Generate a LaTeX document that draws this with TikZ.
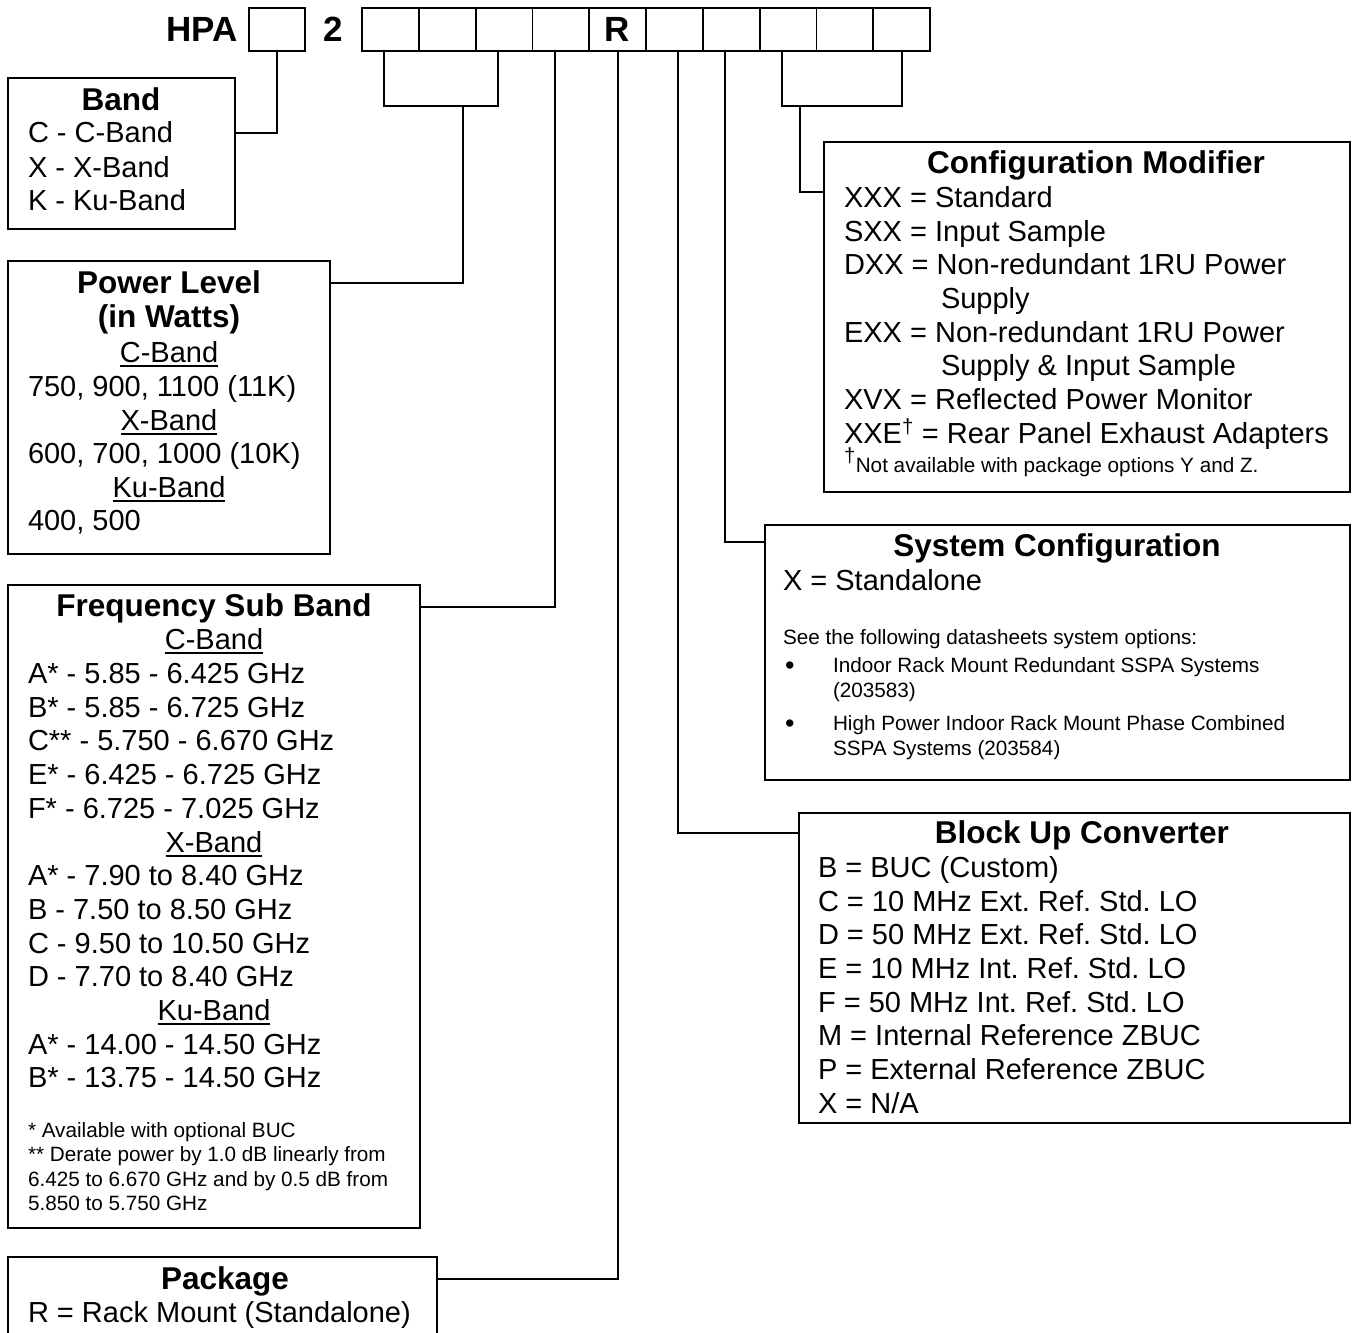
\documentclass[tikz,border=0pt]{standalone}
\usepackage{fontspec}
\setmainfont{Liberation Sans}
\frenchspacing
\newcommand\fmain{\fontsize{29}{34}\selectfont}
\newcommand\fsmall{\fontsize{20.7}{24}\selectfont}
\newcommand\fhead{\fontsize{31.5}{34}\selectfont\bfseries}
\newcommand\ftop{\fontsize{35}{40}\selectfont\bfseries}
\newcommand\fbul{\fontsize{27}{27}\selectfont}
\newcommand\myul[1]{\setbox0=\hbox{#1}\rlap{\rule[-5pt]{\wd0}{2pt}}\box0}
\begin{document}
\begin{tikzpicture}[x=1pt,y=-1pt,
  every node/.style={inner sep=0pt,outer sep=0pt},
  frame/.style={draw,line width=1.8pt,anchor=north west},
  cell/.style={draw,line width=1.8pt,minimum height=43pt},
  conn/.style={line width=1.8pt},
  tl/.style={anchor=base west,font=\fmain},
  tc/.style={anchor=base,font=\fmain},
  hd/.style={anchor=base,font=\fhead},
  sm/.style={anchor=base west,font=\fsmall}]
\useasboundingbox (0,0) rectangle (1353,1333);

% top code row
\node[cell,minimum width=56pt] (h0) at (277,29.5) {};
\foreach \i in {1,...,10}
  \node[cell,minimum width=56.8pt] (c\i) at ({362+56.8*(\i-0.5)},29.5) {};
\node[font=\ftop] (tHPA) at (202,29.5) {HPA};
\node[font=\ftop] (t2) at (333,29.5) {2};
\node[font=\ftop] (tR) at (c5) {R};

% boxes
\node[frame,minimum width=227pt,minimum height=151pt] (band) at (8,78) {};
\node[frame,minimum width=322pt,minimum height=293pt] (power) at (8,261) {};
\node[frame,minimum width=412pt,minimum height=643pt] (freq) at (8,585) {};
\node[frame,minimum width=429pt,minimum height=100pt] (pkg) at (8,1257) {};
\node[frame,minimum width=526pt,minimum height=350pt] (cfg) at (824,142) {};
\node[frame,minimum width=585pt,minimum height=255pt] (sys) at (765,525) {};
\node[frame,minimum width=551pt,minimum height=310pt] (buc) at (799,813) {};

% connectors
\coordinate (yBand) at (0,133);
\coordinate (yBr) at (0,106);
\coordinate (yPow) at (0,283);
\coordinate (yFreq) at (0,607);
\coordinate (yPkg) at (0,1279);
\coordinate (yBuc) at (0,833);
\coordinate (ySys) at (0,542);
\coordinate (yCfg) at (0,192);
\coordinate (pL) at ([xshift=-6.4pt]c1.south);
\coordinate (pR) at ([xshift=-6pt]c3.south);
\coordinate (pJ) at (463,106);
\coordinate (mL) at ([xshift=-6pt]c8.south);
\coordinate (mR) at (c10.south);
\coordinate (mJ) at (800,106);
\draw[conn] (h0.south) |- (band.east |- yBand);
\draw[conn] (pL) |- (pR |- yBr) -- (pR);
\draw[conn] (pJ) |- (power.east |- yPow);
\draw[conn] ([xshift=-6pt]c4.south) |- (freq.east |- yFreq);
\draw[conn] (c5.south) |- (pkg.east |- yPkg);
\draw[conn] ([xshift=3.6pt]c6.south) |- (buc.west |- yBuc);
\draw[conn] ([xshift=-6pt]c7.south) |- (sys.west |- ySys);
\draw[conn] (mL) |- (mR |- yBr) -- (mR);
\draw[conn] (mJ) |- (cfg.west |- yCfg);

% Band
\node[hd] (bandT) at (121,110) {Band};
\node[tl] (band1) at (28,142) {C - C-Band};
\node[tl] (band2) at (28,177) {X - X-Band};
\node[tl] (band3) at (28,210) {K - Ku-Band};

% Power level
\node[hd] (powT1) at (169,293) {Power Level};
\node[hd] (powT2) at (169,327) {(in Watts)};
\node[tc] (pow1) at (169,362) {\myul{C-Band}};
\node[tl] (pow2) at (28,396) {750, 900, 1100 (11K)};
\node[tc] (pow3) at (169,430) {\myul{X-Band}};
\node[tl] (pow4) at (28,463) {600, 700, 1000 (10K)};
\node[tc] (pow5) at (169,497) {\myul{Ku-Band}};
\node[tl] (pow6) at (28,530) {400, 500};

% Frequency sub band
\node[hd] (frT) at (214,616) {Frequency Sub Band};
\node[tc] (fr1) at (214,649) {\myul{C-Band}};
\node[tl] (fr2) at (28,683) {A* - 5.85 - 6.425 GHz};
\node[tl] (fr3) at (28,717) {B* - 5.85 - 6.725 GHz};
\node[tl] (fr4) at (28,750) {C** - 5.750 - 6.670 GHz};
\node[tl] (fr5) at (28,784) {E* - 6.425 - 6.725 GHz};
\node[tl] (fr6) at (28,818) {F* - 6.725 - 7.025 GHz};
\node[tc] (fr7) at (214,852) {\myul{X-Band}};
\node[tl] (fr8) at (28,885) {A* - 7.90 to 8.40 GHz};
\node[tl] (fr9) at (28,919) {B - 7.50 to 8.50 GHz};
\node[tl] (fr10) at (28,953) {C - 9.50 to 10.50 GHz};
\node[tl] (fr11) at (28,986) {D - 7.70 to 8.40 GHz};
\node[tc] (fr12) at (214,1020) {\myul{Ku-Band}};
\node[tl] (fr13) at (28,1054) {A* - 14.00 - 14.50 GHz};
\node[tl] (fr14) at (28,1087) {B* - 13.75 - 14.50 GHz};
\node[sm] (frn1) at (28,1137) {* Available with optional BUC};
\node[sm] (frn2) at (28,1161) {** Derate power by 1.0 dB linearly from};
\node[sm] (frn3) at (28,1186) {6.425 to 6.670 GHz and by 0.5 dB from};
\node[sm] (frn4) at (28,1210) {5.850 to 5.750 GHz};

% Package
\node[hd] (pkT) at (225,1289) {Package};
\node[tl] (pk1) at (28,1322) {R = Rack Mount (Standalone)};

% Configuration modifier
\node[hd] (cfT) at (1096,173) {Configuration Modifier};
\node[tl] (cf1) at (844,207) {XXX = Standard};
\node[tl] (cf2) at (844,241) {SXX = Input Sample};
\node[tl] (cf3) at (844,274) {DXX = Non-redundant 1RU Power};
\node[tl] (cf4) at (941,308) {Supply};
\node[tl] (cf5) at (844,342) {EXX = Non-redundant 1RU Power};
\node[tl] (cf6) at (941,375) {Supply \& Input Sample};
\node[tl] (cf7) at (844,409) {XVX = Reflected Power Monitor};
\node[tl] (cf8) at (844,443) {XXE\textsuperscript{\textdagger} = Rear Panel Exhaust Adapters};
\node[sm] (cf9) at (844,472) {{\fmain\textsuperscript{\textdagger}}Not available with package options Y and Z.};

% System configuration
\node[hd] (syT) at (1057,556) {System Configuration};
\node[tl] (sy1) at (783,590) {X = Standalone};
\node[sm] (sy2) at (783,644) {See the following datasheets system options:};
\node[anchor=base west,font=\fbul] (syb1) at (785,674) {\textbullet};
\node[sm] (sy3) at (833,672) {Indoor Rack Mount Redundant SSPA Systems};
\node[sm] (sy4) at (833,697) {(203583)};
\node[anchor=base west,font=\fbul] (syb2) at (785,732) {\textbullet};
\node[sm] (sy5) at (833,730) {High Power Indoor Rack Mount Phase Combined};
\node[sm] (sy6) at (833,755) {SSPA Systems (203584)};

% Block up converter
\node[hd] (buT) at (1082,843) {Block Up Converter};
\node[tl] (bu1) at (818,877) {B = BUC (Custom)};
\node[tl] (bu2) at (818,911) {C = 10 MHz Ext. Ref. Std. LO};
\node[tl] (bu3) at (818,944) {D = 50 MHz Ext. Ref. Std. LO};
\node[tl] (bu4) at (818,978) {E = 10 MHz Int. Ref. Std. LO};
\node[tl] (bu5) at (818,1012) {F = 50 MHz Int. Ref. Std. LO};
\node[tl] (bu6) at (818,1045) {M = Internal Reference ZBUC};
\node[tl] (bu7) at (818,1079) {P = External Reference ZBUC};
\node[tl] (bu8) at (818,1113) {X = N/A};
\end{tikzpicture}
\end{document}
